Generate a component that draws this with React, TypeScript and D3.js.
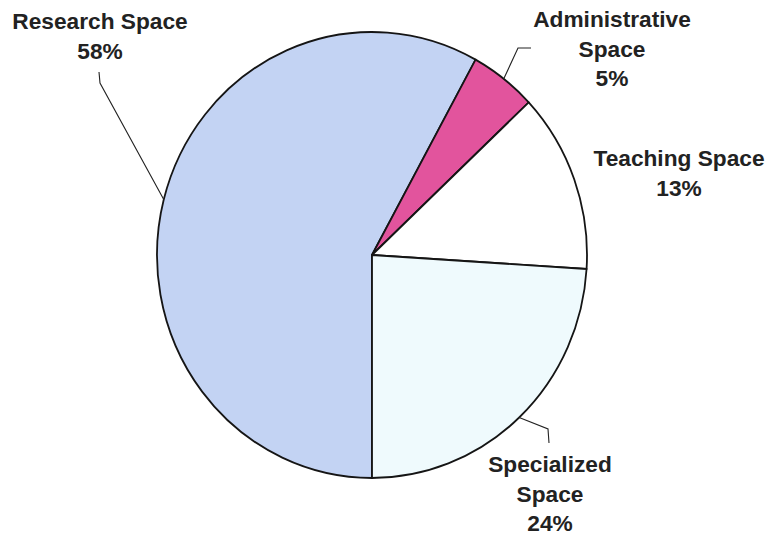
import React from "react";
import * as d3 from "d3";

const categories = ["Research Space", "Administrative Space", "Teaching Space", "Specialized Space"];
const values = [58, 5, 13, 24];
const labelLines = [
  ["Research Space", "58%"],
  ["Administrative", "Space", "5%"],
  ["Teaching Space", "13%"],
  ["Specialized", "Space", "24%"],
];
const colors = ["#c3d3f3", "#e2549d", "#ffffff", "#effafd"];

// layout
const W = 770, H = 535;
const CX = 372, CY = 255, R = 215, YS = 1.037;
const labelPos = [
  { x: 100, y: 29 },
  { x: 612, y: 27 },
  { x: 679, y: 166 },
  { x: 550, y: 472 },
];
const lineH = 29.5;
// leader elbows: [elbow, end] or null
const leaders: ([number, number][] | null)[] = [
  [[100, 83], [99, 72]],
  [[518, 48], [531, 48]],
  null,
  [[548, 429], [549, 443]],
];

export default function App() {
  const pie = d3.pie<number>().sort(null).startAngle(Math.PI).endAngle(3 * Math.PI);
  const arcs = pie(values);
  const arc = d3.arc<d3.PieArcDatum<number>>().innerRadius(0).outerRadius(R);
  const pt = (a: number): [number, number] => [CX + R * Math.sin(a), CY - R * YS * Math.cos(a)];
  return (
    <svg width={W} height={H} style={{ position: "absolute", left: 0, top: 0, background: "#fff" }}>
      <g transform={`translate(${CX},${CY}) scale(1,${YS})`}>
        {arcs.map((d, i) => (
          <path key={categories[i]} d={arc(d) || ""} fill={colors[i]} stroke="#151515" strokeWidth={1.8} strokeLinejoin="round" />
        ))}
      </g>
      {arcs.map((d, i) => {
        const L = leaders[i];
        if (!L) return null;
        const s = pt((d.startAngle + d.endAngle) / 2);
        const line = d3.line()([s, ...L]);
        return <path key={"l" + i} d={line || ""} fill="none" stroke="#222" strokeWidth={1.1} />;
      })}
      {labelLines.map((lines, i) => (
        <text key={"t" + i} x={labelPos[i].x} y={labelPos[i].y} textAnchor="middle"
          fontFamily="'Liberation Sans', Arial, Helvetica, sans-serif" fontWeight="bold" fontSize={22.7} fill="#222">
          {lines.map((t, j) => (
            <tspan key={j} x={labelPos[i].x} y={labelPos[i].y + j * lineH}>{t}</tspan>
          ))}
        </text>
      ))}
    </svg>
  );
}
